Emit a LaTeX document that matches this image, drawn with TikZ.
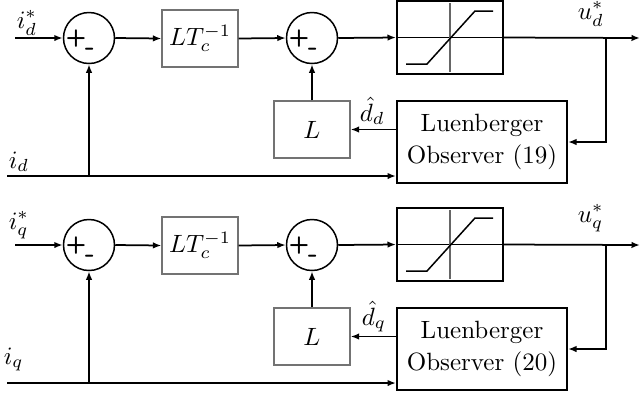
\documentclass[tikz,border=0pt]{standalone}
\usetikzlibrary{arrows.meta,calc}
\begin{document}
\begin{tikzpicture}[x=0.4pt,y=-0.4pt,line width=0.7pt,
  >={Latex[length=3.4pt,width=2.6pt]},
  sumnode/.style={circle,draw,line width=0.6pt,minimum size=20.4pt,inner sep=0pt},
  graybox/.style={draw=black!55,line width=0.5pt,minimum width=30.4pt,minimum height=22.8pt,inner sep=0pt},
  satbox/.style={draw,line width=0.8pt,minimum width=42.4pt,minimum height=29.2pt,inner sep=0pt},
  obsbox/.style={draw,line width=0.8pt,minimum width=68pt,minimum height=32.8pt,inner sep=0pt,align=center,font=\fontsize{10}{12.5}\selectfont},
  plussign/.style={font=\sffamily\bfseries\fontsize{9.5}{9.5}\selectfont,inner sep=0pt},
  minussign/.style={font=\sffamily\bfseries\fontsize{11}{11}\selectfont,inner sep=0pt},
  lbl/.style={inner sep=0pt,anchor=base west}]
\useasboundingbox (0,0) rectangle (640,396);
\foreach \r/\oy/\n in {d/0/19,q/207/20}{
  % blocks
  \node[sumnode] (sa\r) at (89,38+\oy) {};
  \node[plussign] (pa\r) at (76,39+\oy) {+};
  \node[minussign] (ma\r) at (90,52+\oy) {-};
  \node[graybox] (lt\r) at (200,38.5+\oy) {$LT_c^{-1}$};
  \node[sumnode] (sb\r) at (312,38+\oy) {};
  \node[plussign] (pb\r) at (299,39+\oy) {+};
  \node[minussign] (mb\r) at (313,52+\oy) {-};
  \node[graybox] (lg\r) at (312,129.5+\oy) {$L$};
  \node[satbox] (sat\r) at (450,37.5+\oy) {};
  \node[obsbox] (ob\r) at (482,142+\oy) {Luenberger\\Observer (\n)};
  % saturation characteristic
  \draw[line width=0.5pt] (sat\r.west) -- (sat\r.east);
  \draw[line width=0.5pt,black!60] (450,3+\oy) -- (450,72+\oy);
  \draw[line width=0.6pt] (406,64+\oy) -- (427,64+\oy) -- (475,11+\oy) -- (493,11+\oy);
  % coordinates
  \coordinate (in\r) at (15,38+\oy);
  \coordinate (fb\r) at (7,176+\oy);
  \coordinate (out\r) at (640,38+\oy);
  \coordinate (br\r) at (606,38+\oy);
  % connectors
  \draw[->] (in\r) -- (sa\r.west);
  \draw[->] (sa\r.east) -- (lt\r.west);
  \draw[->] (lt\r.east) -- (sb\r.west);
  \draw[->] (sb\r.east) -- (sat\r.west);
  \draw[->] (sat\r.east) -- (out\r);
  \draw[->] (br\r) |- (ob\r.east);
  \draw[->] (lg\r.east -| ob\r.west) -- (lg\r.east);
  \draw[->] (lg\r.north) -- (sb\r.south);
  \draw[->] (fb\r) -- (fb\r -| ob\r.west);
  \draw[->] (fb\r -| sa\r.south) -- (sa\r.south);
}
% labels
\node[lbl] (l1) at (16,28) {$i_d^*$};
\node[lbl] (l2) at (8,168) {$i_d$};
\node[lbl] (l3) at (577,19) {$u_d^*$};
\node[lbl] (l4) at (359,121) {$\hat d_d$};
\node[lbl] (l5) at (8,229) {$i_q^*$};
\node[lbl] (l6) at (3,364) {$i_q$};
\node[lbl] (l7) at (577,222) {$u_q^*$};
\node[lbl] (l8) at (361,325) {$\hat d_q$};
\end{tikzpicture}
\end{document}
